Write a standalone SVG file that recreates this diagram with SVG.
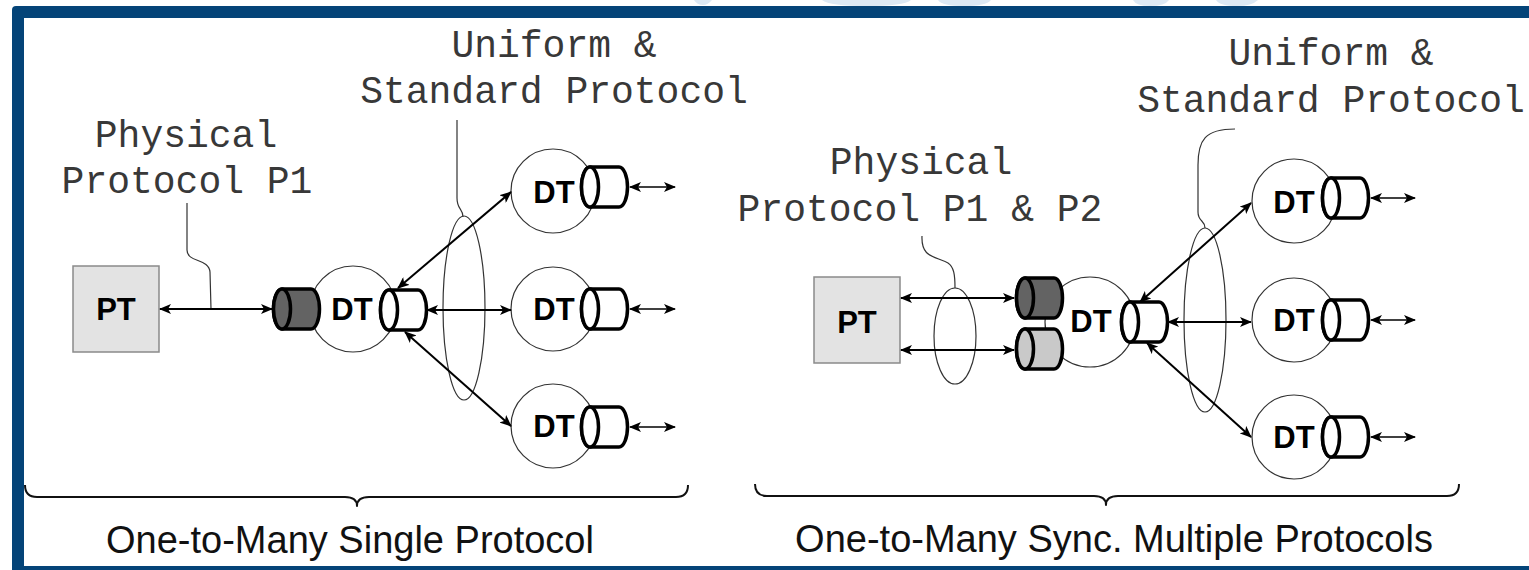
<svg xmlns="http://www.w3.org/2000/svg" xmlns:xlink="http://www.w3.org/1999/xlink" width="1529" height="570" viewBox="0 0 1529 570">
  <style>
    .mono { font-family: "Liberation Mono", "Courier New", monospace; font-size: 38px; fill: #383838; text-anchor: middle; }
    .cap { font-family: "Liberation Sans", Arial, sans-serif; font-size: 38px; fill: #111; text-anchor: middle; }
    .lbl { font-family: "Liberation Sans", Arial, sans-serif; font-weight: bold; font-size: 31px; fill: #000; text-anchor: middle; }
    .ring { fill: #fff; stroke: #333; stroke-width: 1.2; }
    .box { fill: #e3e3e3; stroke: #8a8a8a; stroke-width: 1.5; }
    .cyl { stroke: #000; stroke-width: 3.5; stroke-linejoin: round; }
    .dark { fill: #636363; }
    .light { fill: #c9c9c9; }
    .white { fill: #fff; }
    .wire { fill: none; stroke: #000; stroke-width: 2; marker-start: url(#ah); marker-end: url(#ah); }
    .wire.thin { stroke-width: 1.6; }
    .lead { fill: none; stroke: #333; stroke-width: 1.2; }
    .bundle { fill: none; stroke: #333; stroke-width: 1.2; }
    .brace { fill: none; stroke: #111; stroke-width: 2; stroke-linejoin: round; }
    .mark { fill: #dde9f4; }
  </style>
  <defs>
    <marker id="ah" viewBox="0 0 12 10" refX="11" refY="5" markerWidth="12" markerHeight="10" markerUnits="userSpaceOnUse" orient="auto-start-reverse">
      <path d="M0,0 L12,5 L0,10 L3,5 Z" fill="#000"/>
    </marker>
    <!-- horizontal cylinder, front face centred on the origin -->
    <g id="cyl">
      <path d="M0,-20 H29 A8.5,20 0 0 1 29,20 H0 A8.5,20 0 0 1 0,-20 Z"/>
      <ellipse cx="0" cy="0" rx="8.5" ry="20"/>
    </g>
  </defs>

  <!-- frame -->
  <g id="frame">
    <path class="mark" d="M694,0 H712 Q708,5 703,5 Q697,5 694,0 Z"/>
    <path class="mark" d="M822,0 H911 Q904,6 866,6 Q830,6 822,0 Z"/>
    <path class="mark" d="M938,0 H991 Q986,6 964,6 Q942,6 938,0 Z"/>
    <path class="mark" d="M1133,0 H1169 Q1165,6 1150,6 Q1136,6 1133,0 Z"/>
    <path class="mark" d="M1216,0 H1258 Q1252,6 1237,6 Q1220,6 1216,0 Z"/>
    <rect x="12" y="6" width="1530" height="580" rx="4" fill="#044478"/>
    <rect x="24" y="18" width="1520" height="548" fill="#fff"/>
  </g>

  <!-- labels -->
  <g id="labels">
    <text class="mono" x="554" y="57">Uniform &amp;</text>
    <text class="mono" x="554" y="103">Standard Protocol</text>
    <text class="mono" x="186" y="147">Physical</text>
    <text class="mono" x="187" y="193">Protocol P1</text>
    <text class="mono" x="1331" y="65">Uniform &amp;</text>
    <text class="mono" x="1331" y="112">Standard Protocol</text>
    <text class="mono" x="921" y="174">Physical</text>
    <text class="mono" x="920" y="221">Protocol P1 &amp; P2</text>
    <text class="cap" x="350" y="553">One-to-Many Single Protocol</text>
    <text class="cap" x="1114" y="552">One-to-Many Sync. Multiple Protocols</text>
  </g>

  <!-- braces -->
  <g id="braces">
    <path class="brace" d="M25,485 Q25,497 37,497 H345 Q357,497 357,506 Q357,497 369,497 H676 Q688,497 688,485"/>
    <path class="brace" d="M755,484 Q755,496 767,496 H1094 Q1106,496 1106,505 Q1106,496 1118,496 H1447 Q1459,496 1459,484"/>
  </g>

  <!-- left panel: single protocol -->
  <g id="pt-left">
    <rect class="box" x="73" y="266" width="86" height="86"/>
    <text class="lbl" x="116" y="320">PT</text>
  </g>
  <g id="dt-left-hub">
    <circle class="ring" cx="353" cy="309" r="43"/>
    <text class="lbl" x="352" y="320">DT</text>
    <use xlink:href="#cyl" class="cyl dark" transform="translate(282,309)"/>
    <use xlink:href="#cyl" class="cyl white" transform="translate(389,310)"/>
  </g>
  <g id="dt-left-1">
    <circle class="ring" cx="553" cy="191" r="42"/>
    <text class="lbl" x="554" y="203">DT</text>
    <use xlink:href="#cyl" class="cyl white" transform="translate(590,187)"/>
  </g>
  <g id="dt-left-2">
    <circle class="ring" cx="553" cy="309" r="42"/>
    <text class="lbl" x="554" y="320">DT</text>
    <use xlink:href="#cyl" class="cyl white" transform="translate(590,309)"/>
  </g>
  <g id="dt-left-3">
    <circle class="ring" cx="553" cy="426" r="42"/>
    <text class="lbl" x="554" y="437">DT</text>
    <use xlink:href="#cyl" class="cyl white" transform="translate(590,427)"/>
  </g>

  <!-- right panel: synchronised multiple protocols -->
  <g id="pt-right">
    <rect class="box" x="814" y="277" width="86" height="86"/>
    <text class="lbl" x="857" y="333">PT</text>
  </g>
  <g id="dt-right-hub">
    <circle class="ring" cx="1090" cy="322" r="45"/>
    <text class="lbl" x="1091" y="332">DT</text>
    <use xlink:href="#cyl" class="cyl dark" transform="translate(1025,298)"/>
    <use xlink:href="#cyl" class="cyl light" transform="translate(1025,349)"/>
    <use xlink:href="#cyl" class="cyl white" transform="translate(1130,322)"/>
  </g>
  <g id="dt-right-1">
    <circle class="ring" cx="1294" cy="201" r="42"/>
    <text class="lbl" x="1294" y="213">DT</text>
    <use xlink:href="#cyl" class="cyl white" transform="translate(1331,198)"/>
  </g>
  <g id="dt-right-2">
    <circle class="ring" cx="1294" cy="320" r="42"/>
    <text class="lbl" x="1294" y="331">DT</text>
    <use xlink:href="#cyl" class="cyl white" transform="translate(1331,320)"/>
  </g>
  <g id="dt-right-3">
    <circle class="ring" cx="1294" cy="437" r="42"/>
    <text class="lbl" x="1294" y="448">DT</text>
    <use xlink:href="#cyl" class="cyl white" transform="translate(1331,437)"/>
  </g>

  <!-- connectors, bundle rings and leader lines -->
  <g id="connectors">
    <path class="lead" d="M187,203 L187,250 C187,263 209,258 210,272 L211,309"/>
    <path class="lead" d="M457,120 L457,198 C457,210 463,208 463,217"/>
    <ellipse class="bundle" cx="464" cy="308" rx="21" ry="92"/>
    <path class="wire" d="M160,309 H272"/>
    <path class="wire" d="M398,288 L511,192"/>
    <path class="wire" d="M427,310 H511"/>
    <path class="wire" d="M405,332 L511,426"/>
    <path class="wire thin" d="M630,187 H675"/>
    <path class="wire thin" d="M630,309 H675"/>
    <path class="wire thin" d="M630,427 H675"/>

    <path class="lead" d="M922,236 C921,258 935,256 948,263 C954,267 955,275 955,288"/>
    <path class="lead" d="M1235,129 C1205,129 1198,140 1198,165 L1198,212 C1198,222 1205,220 1205,228"/>
    <ellipse class="bundle" cx="955" cy="336" rx="21" ry="48"/>
    <ellipse class="bundle" cx="1205" cy="320" rx="21" ry="92"/>
    <path class="wire" d="M901,298 H1014"/>
    <path class="wire" d="M901,350 H1014"/>
    <path class="wire" d="M1140,302 L1251,203"/>
    <path class="wire" d="M1168,322 H1251"/>
    <path class="wire" d="M1147,343 L1251,437"/>
    <path class="wire thin" d="M1371,198 H1415"/>
    <path class="wire thin" d="M1371,320 H1415"/>
    <path class="wire thin" d="M1371,437 H1415"/>
  </g>
</svg>
